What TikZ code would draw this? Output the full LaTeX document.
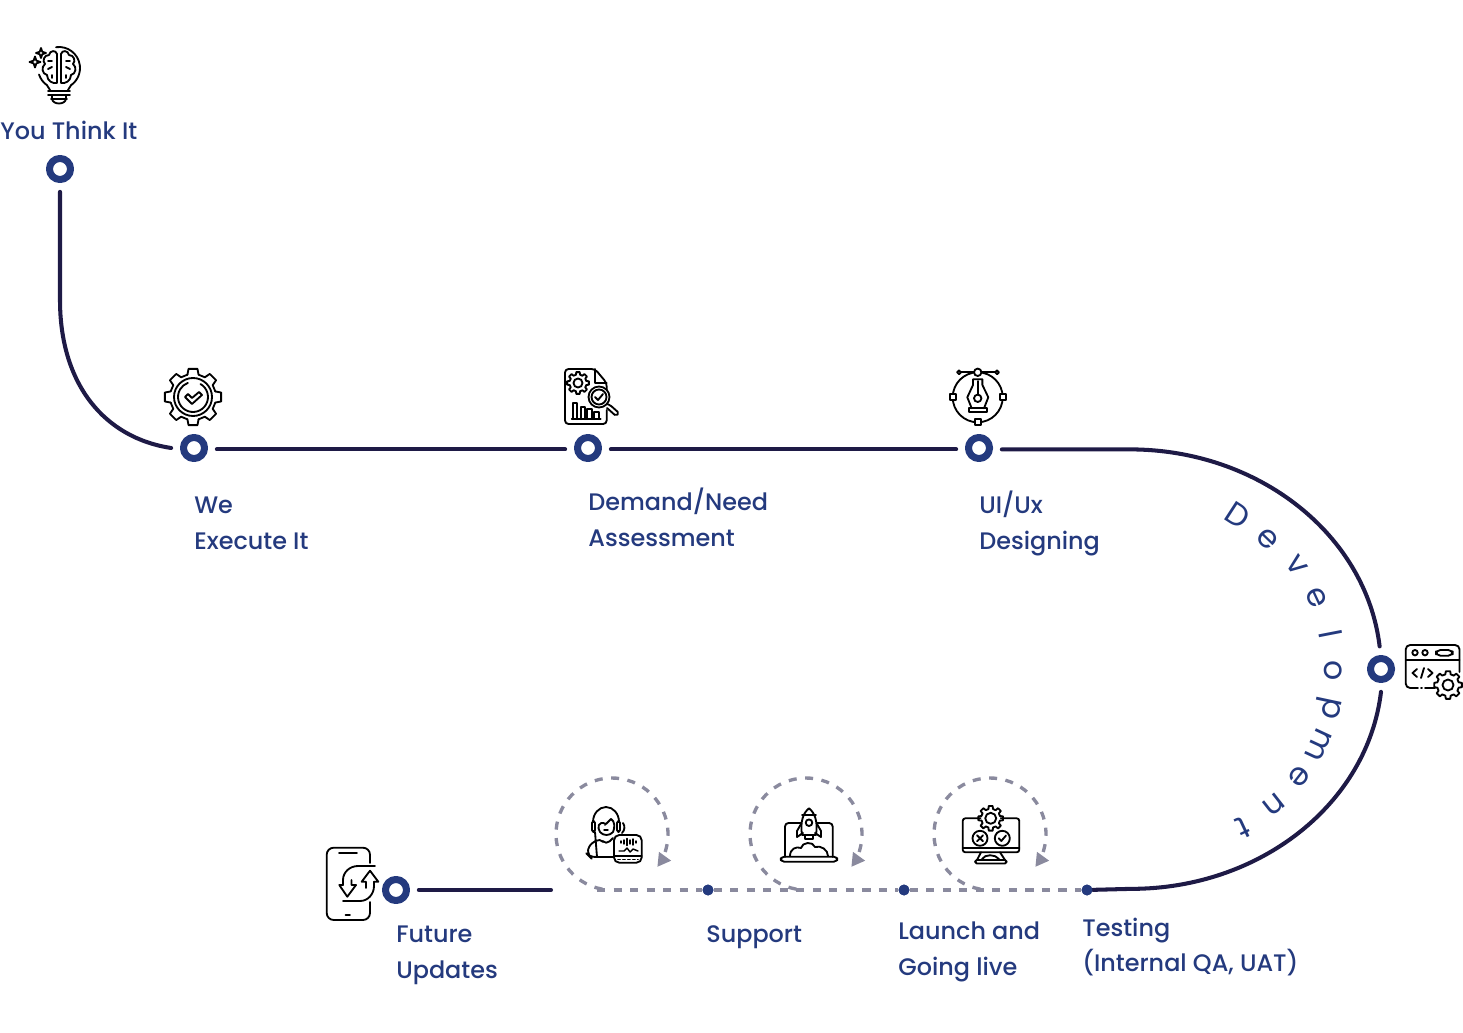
\documentclass[tikz,border=0pt]{standalone}
\usepackage{fontspec}
\setmainfont{Poppins Medium}
\newfontfamily\wordfont{Poppins}
\usetikzlibrary{arrows.meta}

% gear: centre, outer radius, root radius, hole radius
\newcommand{\drawgear}[4]{%
  \begin{scope}[shift={(#1)}]
    \fill[white] (0,0) circle (#3);
    \foreach \a in {0,45,...,315} {
      \draw[iconline] (\a-14:#3) -- (\a-9:#2) -- (\a+9:#2) -- (\a+14:#3) -- (\a+31:#3);
    }
    \draw[iconline] (0,0) circle (#4);
  \end{scope}}

\begin{document}
\begin{tikzpicture}[x=0.02cm,y=-0.02cm,line cap=round,line join=round,
    ring/.style={circle,draw=navy,line width=4pt,fill=white,minimum size=12pt,inner sep=0pt,outer sep=7pt},
    dot/.style={circle,fill=navy,minimum size=6.2pt,inner sep=0pt},
    road/.style={roadcol,line width=2.3pt},
    dashroad/.style={dashcol,line width=1.9pt,line cap=butt,dash pattern=on 4.6pt off 4.8pt},
    steplabel/.style={navy,font=\fontsize{13.6}{20.5}\selectfont,anchor=base west,align=left,inner sep=0pt},
    devletter/.style={navy,font=\wordfont\fontsize{18}{20}\selectfont,inner sep=0pt},
    iconline/.style={black,line width=1.05pt}]
  \definecolor{navy}{RGB}{36,58,126}
  \definecolor{roadcol}{RGB}{30,26,70}
  \definecolor{dashcol}{RGB}{138,138,158}

  \useasboundingbox (0,0) rectangle (1463,1033);

  % ---- stops ----
  \node[ring] (think) at (60,169) {};
  \node[ring] (we) at (194,448) {};
  \node[ring] (demand) at (588,448) {};
  \node[ring] (uiux) at (979,448) {};
  \node[ring] (dev) at (1381,669) {};
  \node[ring] (future) at (396,890) {};
  \node[dot] (support) at (708,890) {};
  \node[dot] (launch) at (904,890) {};
  \node[dot] (testing) at (1087,890) {};
  \coordinate (futureend) at (551,890);
  \coordinate (dashstart) at (597,890);

  % ---- road ----
  \draw[road] (think.south) -- (60,300) .. controls (60,385) and (105,438) .. (we.west);
  \draw[road] ([yshift=-0.8pt]we.east) -- ([yshift=-0.8pt]demand.west);
  \draw[road] ([yshift=-0.8pt]demand.east) -- ([yshift=-0.8pt]uiux.west);
  \draw[road] ([yshift=-0.8pt]uiux.east) -- (1130,449.4) arc[start angle=-90,end angle=-6,x radius=251,y radius=220];
  \draw[road] (dev.south) arc[start angle=6,end angle=90,x radius=251,y radius=220] -- (testing);
  \draw[road] (future.east) -- (futureend);

  % dashed part with the loops
  \draw[dashroad] (dashstart) -- (support) -- (launch) -- (testing);
  \foreach \x in {612,806,990} {
    \draw[dashroad,-{Triangle[width=8pt,length=7.5pt]}] (\x,834)
      ++(100:56) arc[start angle=100,end angle=396,radius=56];
  }
  \node[dot] at (support) {};
  \node[dot] at (launch) {};
  \node[dot] at (testing) {};

  % ---- labels ----
  \node[steplabel] (thinklabel) at (0,140) {You Think It};
  \node[steplabel] (welabel) at (194,513) {We};
  \node[steplabel] (welabel2) at (194,549) {Execute It};
  \node[steplabel] (demandlabel) at (588,510) {Demand/Need};
  \node[steplabel] (demandlabel2) at (588,546) {Assessment};
  \node[steplabel] (uiuxlabel) at (979,513) {UI/Ux};
  \node[steplabel] (uiuxlabel2) at (979,549) {Designing};
  \node[steplabel] (testlabel) at (1082,936) {Testing};
  \node[steplabel] (testlabel2) at (1082,971) {(Internal QA, UAT)};
  \node[steplabel] (launchlabel) at (898,939) {Launch and};
  \node[steplabel] (launchlabel2) at (898,975) {Going live};
  \node[steplabel] (supportlabel) at (706,942) {Support};
  \node[steplabel] (futurelabel) at (396,942) {Future};
  \node[steplabel] (futurelabel2) at (396,978) {Updates};

  % curved word, one letter at a time
  \foreach \c/\x/\y/\r [count=\i] in {D/1238/515/-33,e/1268/539/-44,v/1297/565/-53,e/1316/598/-65,
      l/1331/634/-79,o/1333/671/-90,p/1328/708/-102,m/1319/745/-115,e/1299/777/-128,n/1274/805/-142,t/1243/828/-155} {
    \node[devletter,rotate=\r] (devchar\i) at (\x,\y) {\c};
  }

  % ---- brain bulb ----
  \begin{scope}[shift={(59,68)}]
    \draw[iconline] (-98:21) arc[start angle=-98,end angle=55,radius=21] -- (9,22);
    \draw[iconline] (-9,22) -- (125:21) arc[start angle=125,end angle=162,radius=21];
    \foreach \s in {-1,1} {
      \begin{scope}[xscale=\s]
        \draw[iconline] (2,15) -- (2,-14) .. controls (3,-18) and (9,-18) .. (10,-13)
          .. controls (15,-13) and (17,-7) .. (14,-4) .. controls (18,-1) and (17,6) .. (12,7)
          .. controls (12,13) and (6,16) .. (2,15);
        \draw[iconline] (7,-7) -- (11,-7);
        \draw[iconline] (7,-1) -- (11,1);
        \draw[iconline] (7,7) -- (7,10);
      \end{scope}
    }
    \draw[iconline] (-11,23) -- (11,23);
    \draw[iconline] (-11,27) -- (11,27);
    \draw[iconline] (-8,31) -- (8,31);
    \draw[iconline] (-7,27) -- (-7,31) .. controls (-6,37) and (6,37) .. (7,31) -- (7,27);
    \foreach \x/\y/\r in {-18/-15/5,-24/-6/5.5} {
      \draw[iconline] (\x,\y-\r) -- (\x+0.25*\r,\y-0.25*\r) -- (\x+\r,\y) -- (\x+0.25*\r,\y+0.25*\r)
        -- (\x,\y+\r) -- (\x-0.25*\r,\y+0.25*\r) -- (\x-\r,\y) -- (\x-0.25*\r,\y-0.25*\r) -- cycle;
    }
  \end{scope}

  % ---- gear with check ----
  \drawgear{193,397}{28.5}{23}{19}
  \begin{scope}[shift={(193,397)}]
    \draw[iconline] (-60:15) arc[start angle=-60,end angle=250,radius=15];
    \draw[iconline] (-8,0) -- (-5,-3) -- (-1,1) -- (6,-5) -- (9,-2) -- (-1,7) -- cycle;
  \end{scope}

  % ---- report with magnifier ----
  \draw[iconline,rounded corners=2pt] (606.7,395) -- (606.7,383) -- (595,369) -- (565,369) -- (565,424) -- (606.7,424) -- (606.7,410);
  \draw[iconline] (595,369) -- (595,383) -- (606.7,383);
  \drawgear{578,383}{11}{8.5}{4.5}
  \foreach \x/\t in {572.7/403,580.7/406.7,587.3/409.3,594.3/411.7} {
    \draw[iconline] (\x,419.3) -- (\x,\t) -- (\x+4.5,\t) -- (\x+4.5,419.3);
  }
  \draw[iconline] (571.7,419.3) -- (600.7,419.3);
  \fill[white] (599,397) circle (10.5);
  \draw[iconline] (599,397) circle (10.5);
  \draw[iconline] (599,397) circle (7.5);
  \draw[iconline] (595,397) -- (598,400) -- (603,394);
  \draw[iconline,rounded corners=1pt] (607,404) -- (610,405) -- (619,413) -- (616,416) -- (607,408);

  % ---- pen tool ----
  \draw[iconline] (977.7,397.3) circle (25);
  \draw[iconline] (959,372.3) -- (997,372.3);
  \foreach \x in {959,997} { \draw[iconline,fill=white] (\x,372.3) circle (1.9); }
  \draw[iconline,fill=white] (977.7,372.3) circle (3.7);
  \foreach \x/\y in {952.7/397.3,1002.7/397.3,977.7/422} {
    \draw[iconline,fill=white] (\x-3,\y-3) rectangle (\x+3,\y+3);
  }
  \draw[iconline] (971.7,408.3) -- (967.3,397.3) -- (973,385) -- (973,379.3) -- (982.4,379.3) -- (982.4,385) -- (988.3,397.3) -- (984,408.3);
  \draw[iconline] (977.7,381) -- (977.7,394.6);
  \draw[iconline] (977.7,398.3) circle (3.7);
  \draw[iconline] (969.3,408.3) rectangle (986.7,412.3);

  % ---- code window ----
  \draw[iconline,rounded corners=2.5pt] (1459.5,672) -- (1459.5,645) -- (1405.7,645) -- (1405.7,688) -- (1418,688);
  \draw[iconline] (1421,688) -- (1422,688);
  \draw[iconline] (1425,688) -- (1435,688);
  \draw[iconline] (1405.7,660) -- (1459.5,660);
  \foreach \x in {1415,1425} { \draw[iconline] (\x,652.7) circle (2.7); }
  \draw[iconline,rounded corners=2.5pt] (1436,650) rectangle (1452.7,655.7);
  \draw[iconline] (1417,669) -- (1412.5,673) -- (1417,677);
  \draw[iconline] (1424,668) -- (1421,678);
  \draw[iconline] (1428,669) -- (1432.5,673) -- (1428,677);
  \drawgear{1448,685}{14}{11}{5.5}

  % ---- phone with sync arrows ----
  \draw[iconline,rounded corners=4pt] (370,863) -- (370,847.7) -- (326.7,847.7) -- (326.7,920) -- (370,920) -- (370,902);
  \draw[iconline] (339,853.3) -- (357,853.3);
  \draw[iconline] (345.5,915) -- (350,915);
  \draw[iconline] (375,866) -- (358,866) .. controls (350,866) and (343,872) .. (343,880) -- (343,885);
  \draw[iconline] (343,885) -- (339.3,885) -- (347.3,896.7) -- (356,885) -- (351.5,885) -- (351.5,880);
  \draw[iconline] (343,901) -- (360,901) .. controls (368,901) and (374,894) .. (374,886) -- (374,881.7);
  \draw[iconline] (374,881.7) -- (378.3,881.7) -- (370,870.7) -- (361.7,881.7) -- (366,881.7) -- (366,888);

  % ---- support agent ----
  \draw[iconline] (606,824) .. controls (598,820) and (597,828) .. (600,832) .. controls (603,836) and (610,836) .. (613,832) .. controls (615,828) and (615,821) .. (611,819) -- cycle;
  \draw[iconline] (593,822) arc[start angle=180,end angle=360,x radius=13,y radius=15];
  \draw[iconline,rounded corners=1pt] (592,821) rectangle (595,832);
  \draw[iconline,rounded corners=1pt] (617,821) rectangle (620,832);
  \draw[iconline] (623,823) .. controls (625,826) and (625,830) .. (622,833);
  \fill[black] (605,825) circle (0.9);
  \draw[iconline,line width=0.8pt] (604,830) -- (608,830);
  \draw[iconline,rounded corners=3pt] (614,857) -- (590,857) -- (588,855) -- (588,846) -- (600,838) -- (606,845) -- (613,838);
  \draw[iconline] (595,832) -- (597,857);
  \draw[iconline,fill=white,rounded corners=3pt] (614,835) rectangle (641.7,862.7);
  \draw[iconline] (614,855.7) -- (641.7,855.7);
  \foreach \x/\h in {621/1,624/2,627/3.5,630/2,633/3,636/1} {
    \draw[iconline,line width=0.8pt] (\x,842-\h) -- (\x,842+\h);
  }
  \draw[iconline,line width=0.8pt] (619,851) -- (624,851) -- (627,848) -- (630,852) -- (633,849) -- (638,851);
  \draw[iconline,dash pattern=on 1.2pt off 1.6pt] (618,859.5) -- (638,859.5);

  % ---- laptop with rocket ----
  \draw[iconline,rounded corners=2pt] (785,857) -- (785,823) -- (801,823);
  \draw[iconline,rounded corners=2pt] (817,823) -- (832.7,823) -- (832.7,857);
  \draw[iconline,rounded corners=2pt] (780.7,856.7) rectangle (837.3,861.7);
  \draw[iconline] (802,835) .. controls (800,822) and (803,813) .. (809,808.3) .. controls (815,813) and (818,822) .. (816,835) -- cycle;
  \draw[iconline] (802,815) -- (816,815);
  \draw[iconline] (809,822.7) circle (3.3);
  \draw[iconline] (801,824) -- (797,831) -- (797,837) -- (803,833);
  \draw[iconline] (817,824) -- (821,831) -- (821,837) -- (815,833);
  \draw[iconline] (805,835) -- (805,839) -- (813,839) -- (813,835);
  \draw[iconline] (790,856) .. controls (790,849) and (796,846) .. (801,848) .. controls (802,842) and (813,841) .. (815,847)
    .. controls (821,845) and (828,850) .. (828,856);

  % ---- monitor with gear ----
  \draw[iconline,rounded corners=1.5pt] (962.7,818.3) rectangle (1019.3,852.3);
  \draw[iconline] (962.7,848.3) -- (1019.3,848.3);
  \drawgear{990.7,818.3}{12.5}{9.5}{5.5}
  \draw[iconline] (980,838.3) circle (7.5);
  \draw[iconline] (1002.3,838.3) circle (7.5);
  \draw[iconline] (977,835.3) -- (983,841.3);
  \draw[iconline] (983,835.3) -- (977,841.3);
  \draw[iconline] (998.8,838.3) -- (1001.3,841) -- (1006,835.5);
  \draw[iconline] (981,852.3) -- (977,860);
  \draw[iconline] (1000,852.3) -- (1005,860);
  \draw[iconline] (982,859) .. controls (985,854) and (995,854) .. (999,859);
  \draw[iconline,rounded corners=1pt] (975,860) rectangle (1006.7,863.5);
\end{tikzpicture}
\end{document}
